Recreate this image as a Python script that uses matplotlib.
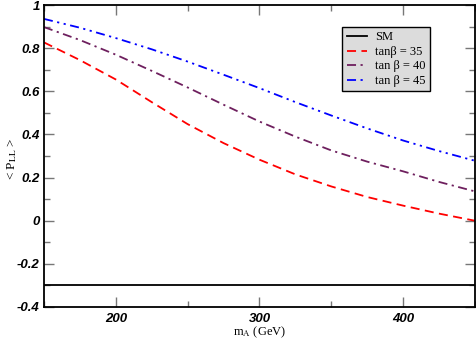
import matplotlib
matplotlib.use("Agg")
import matplotlib.pyplot as plt
from matplotlib.ticker import MultipleLocator

# m_A values (GeV)
m_A = [150, 175, 200, 225, 250, 275, 300, 325, 350, 375, 400, 425, 450]

# <P_LL>
p_tb35 = [0.827, 0.745, 0.655, 0.550, 0.448, 0.360, 0.283, 0.215, 0.159, 0.110, 0.070, 0.033, 0.0]
p_tb40 = [0.898, 0.838, 0.770, 0.695, 0.618, 0.538, 0.460, 0.390, 0.326, 0.274, 0.229, 0.180, 0.136]
p_tb45 = [0.936, 0.895, 0.847, 0.795, 0.738, 0.677, 0.615, 0.550, 0.488, 0.428, 0.372, 0.323, 0.278]
p_sm = -0.30

plt.rcParams["mathtext.fontset"] = "stix"

fig = plt.figure(figsize=(4.77, 3.39), dpi=100)
ax = fig.add_axes([0.0922, 0.0944, 0.9036, 0.8906])

ax.axhline(p_sm, color="black", lw=1.3, label="SM")
ax.plot(m_A, p_tb35, color="red", lw=1.3, ls=(0, (5, 3)), label="tanβ = 35")
ax.plot(m_A, p_tb40, color="#6e1f5e", lw=1.3, ls=(0, (5, 2.5, 1.2, 2.5)), label="tan β = 40")
ax.plot(m_A, p_tb45, color="blue", lw=1.3, ls=(0, (5, 2.5, 1.2, 2.5, 1.2, 2.5)), label="tan β = 45")

ax.set_xlim(150, 450)
ax.set_ylim(-0.4, 1.0)
ax.xaxis.set_major_locator(MultipleLocator(100))
ax.xaxis.set_minor_locator(MultipleLocator(50))
ax.yaxis.set_major_locator(MultipleLocator(0.2))
ax.yaxis.set_minor_locator(MultipleLocator(0.1))
ax.tick_params(which="both", direction="in", top=True, right=True, color="#777777")
ax.tick_params(which="major", length=7, width=1)
ax.tick_params(which="minor", length=4, width=1)
ax.set_xticks([200, 300, 400])
ax.set_yticks([-0.4, -0.2, 0, 0.2, 0.4, 0.6, 0.8, 1.0])
ax.set_yticklabels(["-0.4", "-0.2", "0", "0.2", "0.4", "0.6", "0.8", "1"])

for lab in ax.get_xticklabels() + ax.get_yticklabels():
    lab.set_family("Liberation Sans")
    lab.set_fontweight("bold")
    lab.set_fontstyle("italic")
    lab.set_fontsize(9.5)
ax.tick_params(axis="x", pad=4)
ax.tick_params(axis="y", pad=3)

for s in ax.spines.values():
    s.set_linewidth(1.3)

ax.set_xlabel(r"m$_{\rm A}$ (GeV)", family="Liberation Serif", fontsize=9, labelpad=0)
ax.set_ylabel(r"< P$_{\rm LL}$ >", family="Liberation Serif", fontsize=9.5)
ax.yaxis.set_label_coords(-0.058, 0.49)

leg = ax.legend(loc="upper right", bbox_to_anchor=(0.896, 0.927), borderaxespad=0,
                fancybox=False, framealpha=1, facecolor="#dcdcdc", edgecolor="black",
                prop={"family": "Liberation Serif", "size": 9}, handlelength=1.6,
                labelspacing=0.2, borderpad=0.35, handletextpad=0.7)
leg.get_frame().set_linewidth(1.0)

plt.savefig("out.png", dpi=100)
